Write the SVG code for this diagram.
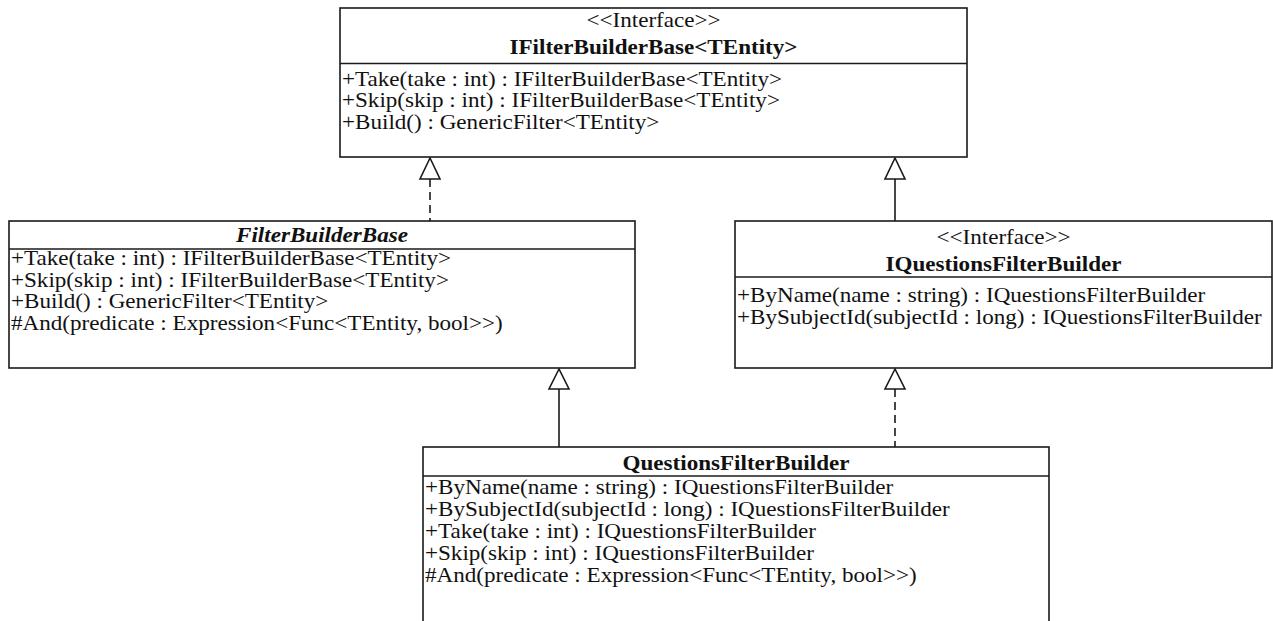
<svg xmlns="http://www.w3.org/2000/svg" width="1273" height="621" viewBox="0 0 1273 621">
  <style>
    .box { fill: #ffffff; stroke: #1a1a1a; stroke-width: 1.6; }
    .sep { stroke: #1a1a1a; stroke-width: 1.4; }
    .t { font-family: "Liberation Serif", "Times New Roman", serif; font-size: 21px; fill: #111; }
    .c { text-anchor: middle; }
    .b { font-weight: bold; }
    .bi { font-weight: bold; font-style: italic; }
    .edge { stroke: #1a1a1a; stroke-width: 1.6; fill: none; }
    .dash { stroke-dasharray: 8 5; }
    .head { fill: #ffffff; stroke: #1a1a1a; stroke-width: 1.6; }
  </style>

  <!-- connectors: realization (dashed) and generalization (solid) -->
  <g id="connectors">
    <line class="edge dash" x1="430" y1="179" x2="430" y2="221"/>
    <polygon class="head" points="430,158 420,179 440,179"/>

    <line class="edge" x1="895" y1="179" x2="895" y2="221"/>
    <polygon class="head" points="895,158 885,179 905,179"/>

    <line class="edge" x1="559" y1="389" x2="559" y2="447"/>
    <polygon class="head" points="559,369 549,389 569,389"/>

    <line class="edge dash" x1="895" y1="389" x2="895" y2="447"/>
    <polygon class="head" points="895,369 885,389 905,389"/>
  </g>

  <!-- interface IFilterBuilderBase<TEntity> -->
  <g id="IFilterBuilderBase">
    <rect class="box" x="340" y="8" width="627" height="149"/>
    <line class="sep" x1="340" y1="63.5" x2="967" y2="63.5"/>
    <text class="t c" transform="matrix(1.1 0 0 1 653.5 27)">&lt;&lt;Interface&gt;&gt;</text>
    <text class="t c b" transform="matrix(1.1 0 0 1 653.5 54)">IFilterBuilderBase&lt;TEntity&gt;</text>
    <text class="t" transform="matrix(1.1 0 0 1 342 85.5)">+Take(take : int) : IFilterBuilderBase&lt;TEntity&gt;</text>
    <text class="t" transform="matrix(1.1 0 0 1 342 107)">+Skip(skip : int) : IFilterBuilderBase&lt;TEntity&gt;</text>
    <text class="t" transform="matrix(1.1 0 0 1 342 128.5)">+Build() : GenericFilter&lt;TEntity&gt;</text>
  </g>

  <!-- abstract class FilterBuilderBase -->
  <g id="FilterBuilderBase">
    <rect class="box" x="9" y="221" width="626" height="147"/>
    <line class="sep" x1="9" y1="249" x2="635" y2="249"/>
    <text class="t c bi" transform="matrix(1.1 0 0 1 322 241.5)">FilterBuilderBase</text>
    <text class="t" transform="matrix(1.1 0 0 1 11 265)">+Take(take : int) : IFilterBuilderBase&lt;TEntity&gt;</text>
    <text class="t" transform="matrix(1.1 0 0 1 11 286.5)">+Skip(skip : int) : IFilterBuilderBase&lt;TEntity&gt;</text>
    <text class="t" transform="matrix(1.1 0 0 1 11 308)">+Build() : GenericFilter&lt;TEntity&gt;</text>
    <text class="t" transform="matrix(1.1 0 0 1 11 329.5)">#And(predicate : Expression&lt;Func&lt;TEntity, bool&gt;&gt;)</text>
  </g>

  <!-- interface IQuestionsFilterBuilder -->
  <g id="IQuestionsFilterBuilder">
    <rect class="box" x="735" y="221" width="537" height="147"/>
    <line class="sep" x1="735" y1="277" x2="1272" y2="277"/>
    <text class="t c" transform="matrix(1.1 0 0 1 1003.5 244)">&lt;&lt;Interface&gt;&gt;</text>
    <text class="t c b" transform="matrix(1.1 0 0 1 1003.5 271)">IQuestionsFilterBuilder</text>
    <text class="t" transform="matrix(1.1 0 0 1 737 302)">+ByName(name : string) : IQuestionsFilterBuilder</text>
    <text class="t" transform="matrix(1.1 0 0 1 737 324)">+BySubjectId(subjectId : long) : IQuestionsFilterBuilder</text>
  </g>

  <!-- class QuestionsFilterBuilder -->
  <g id="QuestionsFilterBuilder">
    <rect class="box" x="423" y="447" width="626" height="185"/>
    <line class="sep" x1="423" y1="476" x2="1049" y2="476"/>
    <text class="t c b" transform="matrix(1.1 0 0 1 736 470)">QuestionsFilterBuilder</text>
    <text class="t" transform="matrix(1.1 0 0 1 425 494)">+ByName(name : string) : IQuestionsFilterBuilder</text>
    <text class="t" transform="matrix(1.1 0 0 1 425 516)">+BySubjectId(subjectId : long) : IQuestionsFilterBuilder</text>
    <text class="t" transform="matrix(1.1 0 0 1 425 538)">+Take(take : int) : IQuestionsFilterBuilder</text>
    <text class="t" transform="matrix(1.1 0 0 1 425 560)">+Skip(skip : int) : IQuestionsFilterBuilder</text>
    <text class="t" transform="matrix(1.1 0 0 1 425 582)">#And(predicate : Expression&lt;Func&lt;TEntity, bool&gt;&gt;)</text>
  </g>
</svg>
